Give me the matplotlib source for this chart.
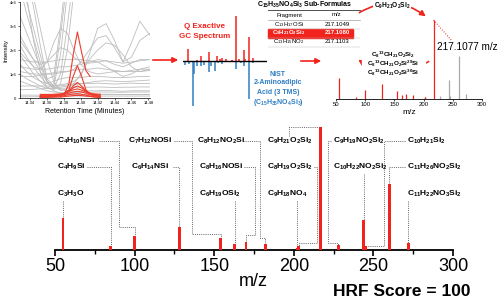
import matplotlib
matplotlib.use("Agg")
import matplotlib.pyplot as plt
from matplotlib.patches import FancyArrowPatch, Rectangle
from matplotlib.lines import Line2D
import numpy as np

plt.rcParams["font.family"] = ["Liberation Sans", "DejaVu Sans"]
plt.rcParams["mathtext.default"] = "regular"

nan = np.nan
RED = "#f2231d"
BLUE = "#2f7fc4"
GRAY = "#bdbdbd"

# ---- extracted ion chromatogram (intensity in units of 1e6) ----
rt = [14.328, 14.336, 14.344, 14.352, 14.360, 14.368, 14.376, 14.384, 14.392,
      14.400, 14.410, 14.420, 14.430, 14.440, 14.450, 14.460, 14.470, 14.482]
gray_traces = [
    [6.0, 5.0, 3.8, 2.2, 0.8, 0.9, 3.0, 5.5] + [nan] * 10,
    [5.0, 4.0, 2.9, 1.8, 0.8, 0.5, 1.8, 4.4] + [nan] * 10,
    [4.6, 3.5, 2.5, 1.5, 0.7, 0.4, 1.0, 3.0, 5.2] + [nan] * 9,
    [6.5, 4.2, 2.4, 1.1, 0.4, 0.6, 2.6, 5.0] + [nan] * 10,
    [3.4, 2.7, 2.0, 1.3, 0.7, 0.35, 0.6, 2.0, 4.5] + [nan] * 9,
    [7.0, 5.6, 4.2, 2.9, 1.6, 0.7, 0.3, 0.4, 0.6, 1.0, 1.6, 2.0, 2.3, 2.2, 1.8, 1.3, 1.1, 1.2],
    [2.6, 2.1, 1.6, 1.1, 0.7, 0.45, 0.35, 0.3, 0.28, 0.28, 0.3, 0.3, 0.32, 0.3, 0.28, 0.3, 0.3, 0.3],
    [2.2, 1.7, 1.3, 0.9, 0.6, 0.5, 0.5, 0.55, 0.6, 0.6, 0.6, 0.62, 0.6, 0.58, 0.6, 0.62, 0.6, 0.6],
    [1.8, 1.4, 1.0, 0.7, 0.45, 0.3, 0.2, 0.18, 0.15, 0.15, 0.15, 0.15, 0.16, 0.15, 0.15, 0.15, 0.15, 0.15],
    [1.4, 1.1, 0.85, 0.7, 0.6, 0.7, 0.8, 0.85, 0.85, 0.85, 0.9, 0.9, 0.88, 0.85, 0.85, 0.87, 0.9, 0.9],
    [1.0, 0.8, 0.65, 0.5, 0.4, 0.38, 0.4, 0.42, 0.45, 0.45, 0.45, 0.46, 0.45, 0.44, 0.45, 0.45, 0.46, 0.46],
    [0.7, 0.6, 0.5, 0.4, 0.3, 0.25, 0.22, 0.22, 0.22, 0.23, 0.24, 0.25, 0.25, 0.24, 0.24, 0.25, 0.25, 0.25],
    [1.9, 1.6, 1.3, 1.2, 1.5, 2.3, 2.9, 2.7, 2.0, 1.4, 1.1, 1.0, 1.05, 1.1, 1.1, 1.1, 1.1, 1.15],
    [2.4, 2.0, 1.6, 1.4, 1.5, 1.8, 2.1, 2.0, 1.7, 1.5, 1.45, 1.5, 1.55, 1.5, 1.45, 1.5, 1.55, 1.6],
    [0.5, 0.5, 0.5, 0.5, 0.5, 0.5, 0.55, 0.6, 0.7, 0.9, 1.8, 2.9, 3.1, 2.4, 1.5, 2.3, 3.2, 2.6],
    [0.9, 0.9, 0.9, 0.95, 1.0, 1.0, 1.05, 1.1, 1.2, 1.5, 2.0, 2.5, 2.6, 2.1, 1.5, 1.7, 2.4, 2.7],
    [1.3, 1.25, 1.2, 1.2, 1.2, 1.25, 1.3, 1.3, 1.35, 1.4, 1.5, 1.6, 1.55, 1.4, 1.3, 1.45, 1.6, 1.6],
    [1.6, 1.55, 1.5, 1.5, 1.5, 1.55, 1.6, 1.6, 1.6, 1.6, 1.55, 1.5, 1.3, 1.1, 0.9, 1.0, 1.2, 1.3],
    [1.1, 1.05, 1.0, 1.0, 1.0, 1.05, 1.1, 1.1, 1.15, 1.2, 1.2, 1.25, 1.2, 1.15, 1.1, 1.15, 1.2, 1.2],
    [0.35, 0.35, 0.36, 0.38, 0.4, 0.42, 0.45, 0.5, 0.55, 0.6, 0.65, 0.7, 0.72, 0.7, 0.68, 0.7, 0.72, 0.75],
    [0.12, 0.12, 0.12, 0.12, 0.13, 0.13, 0.14, 0.14, 0.14, 0.14, 0.14, 0.14, 0.14, 0.14, 0.14, 0.14, 0.14, 0.14],
    [0.05, 0.05, 0.05, 0.06, 0.06, 0.07, 0.08, 0.08, 0.08, 0.08, 0.08, 0.08, 0.08, 0.08, 0.08, 0.08, 0.08, 0.08],
]
rt_red = [14.352, 14.364, 14.376, 14.381, 14.386, 14.391, 14.396, 14.401,
          14.406, 14.411, 14.416, 14.423]
red_traces = [
    [nan, nan, 0.05, 0.2, 0.6, 1.8, 2.75, 1.9, 1.15, 0.9, nan, nan],
    [0.05, 0.08, 0.12, 0.2, 0.35, 0.9, 1.35, 0.9, 0.35, 0.15, 0.1, 0.08],
    [0.1, 0.12, 0.15, 0.2, 0.3, 0.5, 0.65, 0.5, 0.3, 0.2, 0.15, 0.12],
    [0.05, 0.08, 0.12, 0.18, 0.28, 0.42, 0.5, 0.42, 0.28, 0.15, 0.1, 0.07],
    [0.15, 0.15, 0.17, 0.2, 0.27, 0.34, 0.38, 0.33, 0.25, 0.2, 0.17, 0.16],
    [0.08, 0.1, 0.12, 0.15, 0.2, 0.25, 0.28, 0.25, 0.2, 0.14, 0.1, 0.08],
    [0.03, 0.05, 0.08, 0.1, 0.14, 0.17, 0.18, 0.16, 0.12, 0.08, 0.05, 0.03],
    [0.02, 0.03, 0.04, 0.06, 0.08, 0.1, 0.11, 0.1, 0.08, 0.06, 0.04, 0.02],
]
rt_ticks = [14.34, 14.36, 14.38, 14.40, 14.42, 14.44, 14.46, 14.48]
int_ticks = [0, 1, 2, 3, 4]
int_labels = ["0", "1e6", "2e6", "3e6", "4e6"]

# ---- fragment spectrum (relative intensity, %) ----
frag_mz = [55, 85, 100, 128, 154, 163, 170, 182, 202, 203, 217, 228, 244, 245, 260, 272]
frag_int = [26, 3, 11, 19, 10, 5, 6.5, 5, 2, 3, 100, 4, 24, 3.5, 54, 6]

# ---- NIST library spectrum (mirror, %) ----
nist_mz = [45, 59, 73, 75, 86, 100, 110, 128, 133, 147, 156, 170, 217, 232, 244, 260, 272]
nist_int = [8, 6, 100, 28, 10, 11, 8, 25, 12, 22, 5, 6, 18, 4, 10, 85, 5]

# ---- fragment annotations ----
frag_labels = [
    r"C$_4$H$_{10}$NSi", r"C$_4$H$_9$Si", r"C$_3$H$_3$O",
    r"C$_7$H$_{12}$NOSi", r"C$_6$H$_{14}$NSi",
    r"C$_8$H$_{12}$NO$_2$Si", r"C$_8$H$_{16}$NOSi", r"C$_6$H$_{19}$OSi$_2$",
    r"C$_9$H$_{21}$O$_2$Si$_2$", r"C$_8$H$_{19}$O$_2$Si$_2$", r"C$_9$H$_{18}$NO$_4$",
    r"C$_9$H$_{19}$NO$_2$Si$_2$", r"C$_{10}$H$_{22}$NO$_2$Si$_2$",
    r"C$_{10}$H$_{21}$Si$_2$", r"C$_{11}$H$_{26}$NO$_2$Si$_2$", r"C$_{11}$H$_{22}$NO$_3$Si$_2$",
]
label_bar = [100, 85, 55, 154, 128, 182, 170, 163, 217, 203, 202, 228, 244, 245, 260, 272]

table_formula = [r"C$_{13}$H$_{17}$OSi", r"C$_9$H$_{21}$O$_2$Si$_2$", r"C$_{13}$H$_{15}$NO$_2$"]
table_mz = ["217.1049", "217.1080", "217.1103"]
isotope_labels = [r"C$_8{}^{13}$CH$_{21}$O$_2$Si$_2$",
                  r"C$_8{}^{13}$CH$_{21}$O$_2$Si$^{29}$Si",
                  r"C$_8{}^{13}$CH$_{21}$O$_2$Si$^{30}$Si"]

W, H = 500, 299


def fx(x):
    return x / W


def fy(y):
    return 1 - y / H


fig = plt.figure(figsize=(5, 2.99), dpi=100)

# ---------------- chromatogram inset ----------------
ax1 = fig.add_axes([fx(20), fy(98), 130 / W, 96 / H])
for tr in gray_traces:
    ax1.plot(rt, tr, color=GRAY, lw=0.6)
for tr in red_traces:
    ax1.plot(rt_red, tr, color="#ee3b2b", lw=0.8)
ax1.set_xlim(14.328, 14.482)
ax1.set_ylim(0, 4)
ax1.set_xticks(rt_ticks)
ax1.set_xticklabels([f"{t:.2f}" for t in rt_ticks])
ax1.set_yticks(int_ticks)
ax1.set_yticklabels(int_labels)
ax1.tick_params(labelsize=3, length=1.5, width=0.4, pad=1)
for s in ["top", "right"]:
    ax1.spines[s].set_visible(False)
for s in ["left", "bottom"]:
    ax1.spines[s].set_linewidth(0.5)
ax1.set_ylabel("Intensity", fontsize=4.4, labelpad=1)
ax1.set_xlabel("Retention Time (Minutes)", fontsize=5, labelpad=1.5)

# ---------------- mirror plot ----------------
ax3 = fig.add_axes([fx(183), fy(108), 84 / W, 94 / H])
ax3.vlines(frag_mz, 0, frag_int, colors=RED, lw=1.1)
ax3.vlines(nist_mz, 0, [-v for v in nist_int], colors=BLUE, lw=1.1)
ax3.axhline(0, color="black", lw=1.0)
ax3.set_xlim(40, 320)
ax3.set_ylim(-104.4, 104.4)
ax3.axis("off")

fig.text(fx(205), fy(27), "Q Exactive", color=RED, fontsize=5.8, fontweight="bold",
         ha="center", va="center")
fig.text(fx(205), fy(37), "GC Spectrum", color=RED, fontsize=5.8, fontweight="bold",
         ha="center", va="center")
for txt, yy in zip(["NIST", "2-Aminoadipic", "Acid (3 TMS)", r"(C$_{15}$H$_{35}$NO$_4$Si$_3$)"],
                   [74, 83, 93, 102]):
    fig.text(fx(278), fy(yy), txt, color=BLUE, fontsize=5, fontweight="bold",
             ha="center", va="center")


def arrow(p0, p1, rad=0.0):
    a = FancyArrowPatch((fx(p0[0]), fy(p0[1])), (fx(p1[0]), fy(p1[1])),
                        transform=fig.transFigure, arrowstyle="-|>", mutation_scale=8,
                        color=RED, lw=1.2, connectionstyle=f"arc3,rad={rad}")
    fig.add_artist(a)


arrow((150, 60), (181, 60))
arrow((298, 61), (324, 61))
arrow((357, 14), (428, 18), rad=-0.35)
arrow((431, 60), (356, 58), rad=-0.35)

# ---------------- sub-formula table ----------------
fig.text(fx(305), fy(5), r"C$_{15}$H$_{35}$NO$_4$Si$_3$ Sub-Formulas", fontsize=5,
         fontweight="bold", ha="center", va="center")
fig.add_artist(Line2D([fx(268), fx(360)], [fy(10), fy(10)], color="#333", lw=0.6))
fig.text(fx(289), fy(15), "Fragment", fontsize=4.3, ha="center", va="center")
fig.text(fx(336), fy(15), "m/z", fontsize=4.3, ha="center", va="center")
fig.add_artist(Line2D([fx(268), fx(360)], [fy(20), fy(20)], color="#888", lw=0.4))
fig.add_artist(Rectangle((fx(268), fy(37.5)), fx(353) - fx(268), fy(28.5) - fy(37.5),
                         transform=fig.transFigure, color=RED, zorder=1))
for i, (f, m) in enumerate(zip(table_formula, table_mz)):
    yy = 24.5 + 8.5 * i
    col = "white" if i == 1 else "black"
    fig.text(fx(289), fy(yy), f, fontsize=4.3, ha="center", va="center", color=col,
             fontweight="bold" if i == 1 else "normal", zorder=3)
    fig.text(fx(337), fy(yy), m, fontsize=4.3, ha="center", va="center", color=col,
             fontweight="bold" if i == 1 else "normal", zorder=3)
for yy in [28.5, 37.5, 46.5]:
    fig.add_artist(Line2D([fx(268), fx(360)], [fy(yy), fy(yy)], color="#bbb", lw=0.3))

# ---------------- small spectrum (top right) ----------------
ax2 = fig.add_axes([fx(336), fy(99), 146 / W, 84 / H])
cols = [RED if m <= 217 else "#a9a9a9" for m in frag_mz]
ax2.vlines(frag_mz, 0, frag_int, colors=cols, lw=0.9)
ax2.plot([217, 248.6], [100, 73.4], ls=":", color=RED, lw=0.7)
ax2.set_xlim(50, 300)
ax2.set_ylim(0, 106.3)
ax2.set_xticks(range(50, 301, 50))
ax2.set_yticks([])
for s in ["top", "right", "left"]:
    ax2.spines[s].set_visible(False)
ax2.spines["bottom"].set_linewidth(0.6)
ax2.tick_params(axis="x", labelsize=4.3, length=1.5, width=0.5, pad=1)
fig.text(fx(409), fy(113), "m/z", fontsize=6, ha="center", va="center")
fig.text(fx(437), fy(47), "217.1077 m/z", fontsize=7.2, ha="left", va="center")

fig.text(fx(392), fy(6), r"C$_9$H$_{21}$O$_2$Si$_2$", fontsize=4.8, fontweight="bold",
         ha="center", va="center", bbox=dict(fc="white", ec="none", pad=0.6))
# white patch hides the middle of the lower arc behind the isotope labels
fig.add_artist(Rectangle((fx(362), fy(77)), fx(425) - fx(362), fy(50) - fy(77),
                         transform=fig.transFigure, color="white", zorder=2))
for txt, yy in zip(isotope_labels, [54.5, 63.5, 72.5]):
    fig.text(fx(393), fy(yy), txt, fontsize=4.5, fontweight="bold", ha="center",
             va="center", zorder=3)

# ---------------- main annotated spectrum ----------------
ax = fig.add_axes([fx(55), fy(250), 398 / W, 130 / H])
ax.bar(frag_mz, frag_int, width=1.8, color=RED, zorder=3)
ax.set_xlim(50, 300)
ax.set_ylim(0, 100 * 130 / 123)
for s in ["top", "right", "left"]:
    ax.spines[s].set_visible(False)
ax.spines["bottom"].set_linewidth(1.3)
ax.set_yticks([])
ax.set_xticks(range(50, 301, 50))
ax.set_xticks(range(75, 300, 50), minor=True)
ax.tick_params(axis="x", which="major", length=4, width=1.2, labelsize=13, pad=2)
ax.tick_params(axis="x", which="minor", length=3, width=1.0)

rows_y = [88.6, 67.5, 45.5]
label_x = [51.3, 51.3, 51.3, 96, 98, 139.2, 140.5, 140.5, 183.2, 183.2, 183.2,
           224.6, 224.6, 271.1, 271.1, 271.1]
label_row = [0, 1, 2, 0, 1, 0, 1, 2, 0, 1, 2, 0, 1, 0, 1, 2]
waypoints = [
    [(77.5, 88.6), (90.2, 88.6), (90.2, 18.7), (100, 18.7)],
    [(70, 67.5), (85, 67.5)],
    [(55, 40)],
    [(125, 88.6), (136, 88.6), (136, 13), (154, 13)],
    [(124, 67.5), (128, 67.5)],
    [(168, 88.6), (178.5, 88.6), (178.5, 9.8), (182, 9.8)],
    [(169, 67.5), (175.6, 67.5), (175.6, 12.2), (170, 12.2)],
    [(163, 40)],
    [(197, 93), (197, 100)],
    [(212.5, 67.5), (214.6, 67.5), (214.6, 5.7), (203, 5.7)],
    [(202, 40)],
    [(223.5, 88.6), (221.5, 88.6), (221.5, 5.7), (228, 5.7)],
    [(244, 62)],
    [(270, 88.6), (256.7, 88.6), (256.7, 3.5)],
    [(270, 67.5), (260, 67.5)],
    [(272, 40)],
]
bar_top = dict(zip(frag_mz, frag_int))
for lab, x0, r, bm, wp in zip(frag_labels, label_x, label_row, label_bar, waypoints):
    ax.text(x0, rows_y[r], lab, fontsize=6, fontweight="bold", ha="left", va="center",
            clip_on=False)
    pts = wp + [(bm, bar_top[bm])]
    ax.plot([p[0] for p in pts], [p[1] for p in pts], ls=(0, (1, 1.2)), color="#666",
            lw=0.7, clip_on=False, zorder=2)

fig.text(fx(253), fy(281), "m/z", fontsize=13, ha="center", va="center")
fig.text(fx(402), fy(291), "HRF Score = 100", fontsize=12.5, fontweight="bold",
         ha="center", va="center")

fig.savefig("out.png", dpi=100)
